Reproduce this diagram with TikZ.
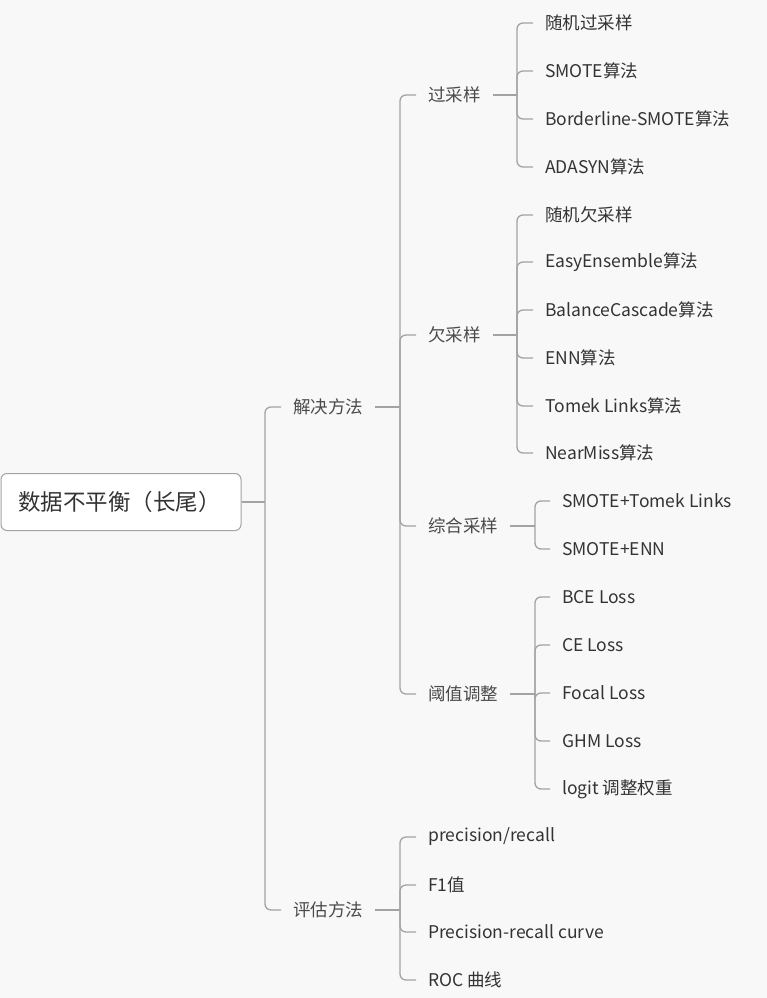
\documentclass[tikz,border=0pt]{standalone}
\usepackage{fontspec}
\setmainfont{Noto Sans CJK SC}
\usepackage{tikz}
\usetikzlibrary{positioning, calc}
\definecolor{bggray}{HTML}{F8F8F8}
\definecolor{linegray}{HTML}{A3A3A3}
\definecolor{textdark}{HTML}{333333}
\definecolor{topicgray}{HTML}{4A4A4A}

\begin{document}
\begin{tikzpicture}[
    x=1pt, y=-1pt,
    rootbox/.style={rectangle, draw=linegray, line width=1pt, fill=white, rounded corners=6pt, text width=206, inner xsep=17pt, minimum height=57, align=left, anchor=west, font=\fontsize{22.5}{26}\selectfont, text=textdark},
    topic/.style={anchor=west, inner xsep=12pt, inner ysep=2pt, font=\fontsize{17.5}{20}\selectfont, text=topicgray},
    leaf/.style={anchor=west, inner xsep=12pt, inner ysep=2pt, font=\fontsize{17.5}{20}\selectfont, text=textdark},
    branch/.style={draw=linegray, line width=1.3pt, rounded corners=6pt}
]
\useasboundingbox (0,0) rectangle (767,998);
\fill[bggray] (0,0) rectangle (767,998);

% root and first level
\node[rootbox] (root) at (0.5,502) {数据不平衡（长尾）};
\node[topic] (solve) at (281,407) {解决方法};
\node[topic] (assess) at (281,910) {评估方法};

% second level
\node[topic] (over) at (416,95) {过采样};
\node[topic] (under) at (416,335) {欠采样};
\node[topic] (mixed) at (416,526) {综合采样};
\node[topic] (thresh) at (416,694) {阈值调整};

% leaves of over sampling
\node[leaf] (o1) at (533,23) {随机过采样};
\node[leaf] (o2) at (533,71) {SMOTE算法};
\node[leaf] (o3) at (533,119) {Borderline-SMOTE算法};
\node[leaf] (o4) at (533,167) {ADASYN算法};

% leaves of under sampling
\node[leaf] (u1) at (533,215) {随机欠采样};
\node[leaf] (u2) at (533,262) {EasyEnsemble算法};
\node[leaf] (u3) at (533,310) {BalanceCascade算法};
\node[leaf] (u4) at (533,358) {ENN算法};
\node[leaf] (u5) at (533,406) {Tomek Links算法};
\node[leaf] (u6) at (533,453) {NearMiss算法};

% leaves of combined sampling
\node[leaf] (m1) at (550,501) {SMOTE+Tomek Links};
\node[leaf] (m2) at (550,549) {SMOTE+ENN};

% leaves of threshold tuning
\node[leaf] (t1) at (550,597) {BCE Loss};
\node[leaf] (t2) at (550,645) {CE Loss};
\node[leaf] (t3) at (550,693) {Focal Loss};
\node[leaf] (t4) at (550,741) {GHM Loss};
\node[leaf] (t5) at (550,789) {logit 调整权重};

% leaves of assessment
\node[leaf] (a1) at (416,837) {precision/recall};
\node[leaf] (a2) at (416,885) {F1值};
\node[leaf] (a3) at (416,932) {Precision-recall curve};
\node[leaf] (a4) at (416,980) {ROC 曲线};

% junctions
\coordinate (jroot) at (265,502);
\coordinate (jsolve) at (400,407);
\coordinate (jassess) at (400,910);
\coordinate (jover) at (517,95);
\coordinate (junder) at (517,335);
\coordinate (jmixed) at (535,526);
\coordinate (jthresh) at (535,694);

% connectors
\draw[branch] (root.east) -- (jroot);
\draw[branch] (jroot) |- (solve.west);
\draw[branch] (jroot) |- (assess.west);

\draw[branch] (solve.east) -- (jsolve);
\draw[branch] (jsolve) |- (over.west);
\draw[branch] (jsolve) |- (under.west);
\draw[branch] (jsolve) |- (mixed.west);
\draw[branch] (jsolve) |- (thresh.west);

\draw[branch] (over.east) -- (jover);
\draw[branch] (jover) |- (o1.west);
\draw[branch] (jover) |- (o2.west);
\draw[branch] (jover) |- (o3.west);
\draw[branch] (jover) |- (o4.west);

\draw[branch] (under.east) -- (junder);
\draw[branch] (junder) |- (u1.west);
\draw[branch] (junder) |- (u2.west);
\draw[branch] (junder) |- (u3.west);
\draw[branch] (junder) |- (u4.west);
\draw[branch] (junder) |- (u5.west);
\draw[branch] (junder) |- (u6.west);

\draw[branch] (mixed.east) -- (jmixed);
\draw[branch] (jmixed) |- (m1.west);
\draw[branch] (jmixed) |- (m2.west);

\draw[branch] (thresh.east) -- (jthresh);
\draw[branch] (jthresh) |- (t1.west);
\draw[branch] (jthresh) |- (t2.west);
\draw[branch] (jthresh) |- (t3.west);
\draw[branch] (jthresh) |- (t4.west);
\draw[branch] (jthresh) |- (t5.west);

\draw[branch] (assess.east) -- (jassess);
\draw[branch] (jassess) |- (a1.west);
\draw[branch] (jassess) |- (a2.west);
\draw[branch] (jassess) |- (a3.west);
\draw[branch] (jassess) |- (a4.west);
\end{tikzpicture}
\end{document}
